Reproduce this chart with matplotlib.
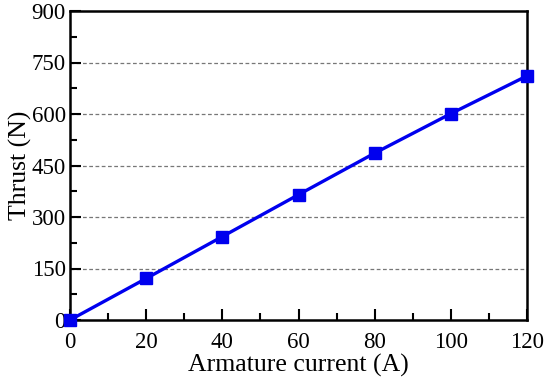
import numpy as np
import matplotlib.pyplot as plt
from matplotlib.ticker import MultipleLocator

current = [0, 20, 40, 60, 80, 100, 120]
thrust = [0, 121, 243, 365, 486, 601, 711]

plt.rcParams['font.family'] = ['Liberation Serif', 'DejaVu Serif']

fig = plt.figure(figsize=(5.5, 3.82), dpi=100)
ax = fig.add_axes([70 / 550, 1 - 320 / 382, 457 / 550, 309 / 382])

ax.plot(current, thrust, color='#0000ee', lw=2.4, marker='s', ms=8.2, clip_on=False, zorder=3)

ax.set_xlim(0, 120)
ax.set_ylim(0, 900)
ax.xaxis.set_major_locator(MultipleLocator(20))
ax.xaxis.set_minor_locator(MultipleLocator(10))
ax.yaxis.set_major_locator(MultipleLocator(150))
ax.yaxis.set_minor_locator(MultipleLocator(75))

for yv in range(150, 900, 150):
    ax.axhline(yv, color='#777777', lw=0.9, ls=(0, (3, 2)), zorder=1)

ax.tick_params(which='both', direction='in', top=False, right=False, width=1.5, labelsize=16.5)
ax.tick_params(which='major', length=8)
ax.tick_params(which='minor', length=5)
ax.tick_params(axis='x', pad=9)
ax.tick_params(axis='y', pad=3)
for s in ax.spines.values():
    s.set_linewidth(1.8)

ax.set_xlabel('Armature current (A)', fontsize=18.5, labelpad=0)
ax.set_ylabel('Thrust (N)', fontsize=18.5, labelpad=0)

fig.savefig('out.png', dpi=100)
